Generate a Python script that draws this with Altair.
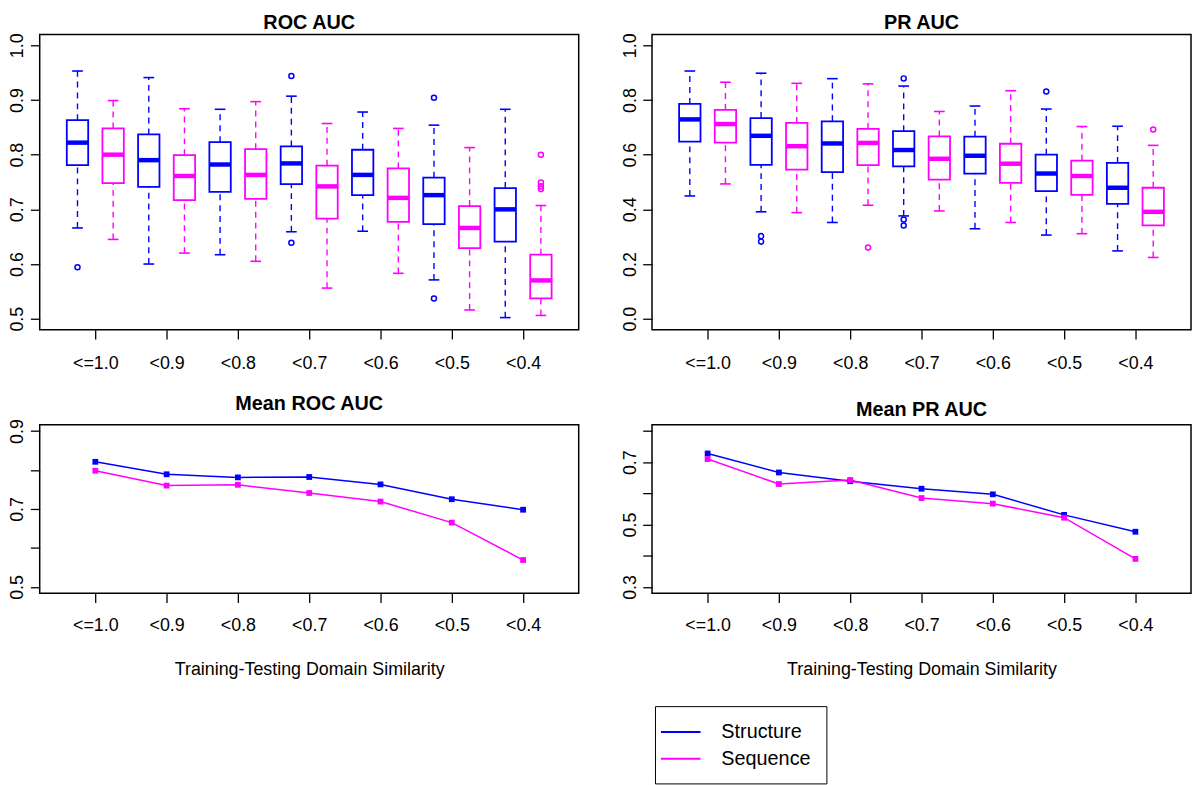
import altair as alt
import pandas as pd

categories = ["<=1.0", "<0.9", "<0.8", "<0.7", "<0.6", "<0.5", "<0.4"]
series_names = ["Structure", "Sequence"]
series_colors = ["#0000FF", "#FF00FF"]

# ---- ROC AUC box statistics (whisker low, Q1, median, Q3, whisker high) ----
roc_struct_lo = [0.666, 0.600, 0.617, 0.659, 0.660, 0.571, 0.502]
roc_struct_q1 = [0.781, 0.741, 0.732, 0.746, 0.726, 0.673, 0.641]
roc_struct_med = [0.822, 0.790, 0.782, 0.784, 0.763, 0.726, 0.700]
roc_struct_q3 = [0.863, 0.837, 0.823, 0.815, 0.809, 0.758, 0.739]
roc_struct_hi = [0.953, 0.941, 0.883, 0.907, 0.878, 0.854, 0.883]
roc_struct_out_idx = [0, 3, 3, 5, 5]
roc_struct_out_val = [0.594, 0.944, 0.639, 0.904, 0.537]

roc_seq_lo = [0.645, 0.620, 0.605, 0.556, 0.583, 0.516, 0.506]
roc_seq_q1 = [0.748, 0.717, 0.719, 0.683, 0.677, 0.629, 0.537]
roc_seq_med = [0.800, 0.761, 0.763, 0.742, 0.721, 0.666, 0.570]
roc_seq_q3 = [0.848, 0.799, 0.810, 0.780, 0.775, 0.706, 0.617]
roc_seq_hi = [0.899, 0.884, 0.897, 0.857, 0.848, 0.813, 0.707]
roc_seq_out_idx = [6, 6, 6, 6]
roc_seq_out_val = [0.800, 0.749, 0.742, 0.737]

# ---- PR AUC box statistics ----
pr_struct_lo = [0.449, 0.391, 0.352, 0.376, 0.329, 0.306, 0.248]
pr_struct_q1 = [0.648, 0.563, 0.536, 0.557, 0.531, 0.467, 0.420]
pr_struct_med = [0.729, 0.669, 0.641, 0.617, 0.596, 0.531, 0.479]
pr_struct_q3 = [0.786, 0.734, 0.722, 0.686, 0.666, 0.600, 0.570]
pr_struct_hi = [0.906, 0.898, 0.878, 0.851, 0.778, 0.767, 0.704]
pr_struct_out_idx = [1, 1, 3, 3, 3, 5]
pr_struct_out_val = [0.302, 0.282, 0.879, 0.363, 0.341, 0.831]

pr_seq_lo = [0.493, 0.388, 0.415, 0.394, 0.352, 0.311, 0.224]
pr_seq_q1 = [0.644, 0.545, 0.562, 0.509, 0.497, 0.453, 0.341]
pr_seq_med = [0.712, 0.631, 0.643, 0.585, 0.567, 0.522, 0.391]
pr_seq_q3 = [0.764, 0.716, 0.694, 0.667, 0.640, 0.578, 0.479]
pr_seq_hi = [0.865, 0.861, 0.859, 0.758, 0.834, 0.703, 0.634]
pr_seq_out_idx = [2, 6]
pr_seq_out_val = [0.260, 0.692]

# ---- Means ----
mean_roc_struct = [0.821, 0.789, 0.781, 0.782, 0.763, 0.725, 0.698]
mean_roc_seq = [0.798, 0.760, 0.762, 0.741, 0.719, 0.665, 0.569]
mean_pr_struct = [0.728, 0.667, 0.639, 0.615, 0.597, 0.531, 0.477]
mean_pr_seq = [0.710, 0.630, 0.643, 0.585, 0.567, 0.522, 0.390]

FONT = "Liberation Sans"
LBL = 18
BOX_HALF = 0.3
STAPLE_HALF = 0.15


def box_rows(lo, q1, med, q3, hi, series, offset):
    rows = []
    for i in range(len(categories)):
        p = 2 * i + 1 + offset
        rows.append(dict(pos=p, left=p - BOX_HALF, right=p + BOX_HALF,
                         sl=p - STAPLE_HALF, sr=p + STAPLE_HALF,
                         lo=lo[i], q1=q1[i], med=med[i], q3=q3[i], hi=hi[i],
                         series=series))
    return rows


def out_rows(idx, vals, series, offset):
    return [dict(pos=2 * i + 1 + offset, value=v, series=series) for i, v in zip(idx, vals)]


color_scale = alt.Scale(domain=series_names, range=series_colors)
cat_expr = "[" + ",".join("'%s'" % c for c in categories) + "]"


def y_axis(values, expr=None):
    kw = dict(values=values, format=".1f", labelAngle=270, labelAlign="center",
              labelBaseline="alphabetic", labelPadding=7.5, tickSize=9.4,
              title=None, labelFlush=False, labelOverlap=False)
    if expr:
        kw["labelExpr"] = expr
    return alt.Axis(**kw)


def box_panel(boxes, outs, title, ydom, yvals):
    base = alt.Chart(pd.DataFrame(boxes))
    xs = alt.Scale(domain=[-0.06, 15.06], nice=False, zero=False)
    ys = alt.Scale(domain=ydom, nice=False, zero=False)
    col = alt.Color("series:N", scale=color_scale, legend=None)
    xax = alt.Axis(values=[1.5, 3.5, 5.5, 7.5, 9.5, 11.5, 13.5],
                   labelExpr=cat_expr + "[round((datum.value - 1.5) / 2)]",
                   title=None, labelAngle=0, labelPadding=16, tickSize=9.4,
                   labelFlush=False, labelOverlap=False)
    yax = y_axis(yvals)

    def X(f):
        return alt.X(f, scale=xs, axis=xax)

    def Y(f):
        return alt.Y(f, scale=ys, axis=yax)

    up = base.mark_rule(strokeDash=[6, 5], strokeWidth=1.4).encode(
        x=X("pos:Q"), y=Y("q3:Q"), y2="hi:Q", color=col)
    down = base.mark_rule(strokeDash=[6, 5], strokeWidth=1.4).encode(
        x=X("pos:Q"), y=Y("lo:Q"), y2="q1:Q", color=col)
    cap_hi = base.mark_rule(strokeWidth=1.6).encode(
        x=X("sl:Q"), x2="sr:Q", y=Y("hi:Q"), color=col)
    cap_lo = base.mark_rule(strokeWidth=1.6).encode(
        x=X("sl:Q"), x2="sr:Q", y=Y("lo:Q"), color=col)
    box = base.mark_rect(filled=False, strokeWidth=1.8).encode(
        x=X("left:Q"), x2="right:Q", y=Y("q1:Q"), y2="q3:Q", color=col)
    med = base.mark_rule(strokeWidth=4.5).encode(
        x=X("left:Q"), x2="right:Q", y=Y("med:Q"), color=col)
    pts = alt.Chart(pd.DataFrame(outs)).mark_point(
        shape="circle", filled=False, size=26, strokeWidth=1.5, opacity=1).encode(
        x=X("pos:Q"), y=Y("value:Q"), color=col)
    return alt.layer(up, down, cap_hi, cap_lo, box, med, pts).properties(
        width=544, height=298,
        title=alt.TitleParams(title, font=FONT, fontSize=20, fontWeight="bold",
                              anchor="middle", frame="group", offset=0, color="black"))


def mean_panel(struct_vals, seq_vals, title, ydom, yvals, legend):
    rows = []
    for s, vals in zip(series_names, [struct_vals, seq_vals]):
        for i, v in enumerate(vals):
            rows.append(dict(idx=i + 1, value=v, series=s))
    base = alt.Chart(pd.DataFrame(rows))
    xs = alt.Scale(domain=[0.22, 7.78], nice=False, zero=False)
    ys = alt.Scale(domain=ydom, nice=False, zero=False)
    xax = alt.Axis(values=[1, 2, 3, 4, 5, 6, 7],
                   labelExpr=cat_expr + "[round(datum.value - 1)]",
                   title="Training-Testing Domain Similarity", labelAngle=0,
                   labelPadding=14, tickSize=9.4, titlePadding=27,
                   labelFlush=False, labelOverlap=False)
    yax = y_axis(yvals, "(round(datum.value * 10) % 2 == 1) ? format(datum.value, '.1f') : ''")
    col = alt.Color("series:N", scale=color_scale, legend=legend)
    line = base.mark_line(strokeWidth=1.5).encode(
        x=alt.X("idx:Q", scale=xs, axis=xax),
        y=alt.Y("value:Q", scale=ys, axis=yax), color=col)
    pts = base.mark_point(shape="square", filled=True, size=34, opacity=1).encode(
        x=alt.X("idx:Q", scale=xs, axis=xax),
        y=alt.Y("value:Q", scale=ys, axis=yax), color=col)
    return alt.layer(line, pts).properties(
        width=544, height=170,
        title=alt.TitleParams(title, font=FONT, fontSize=20, fontWeight="bold",
                              anchor="middle", frame="group", offset=5, color="black"))


roc_boxes = box_rows(roc_struct_lo, roc_struct_q1, roc_struct_med, roc_struct_q3, roc_struct_hi, "Structure", 0) + \
    box_rows(roc_seq_lo, roc_seq_q1, roc_seq_med, roc_seq_q3, roc_seq_hi, "Sequence", 1)
roc_outs = out_rows(roc_struct_out_idx, roc_struct_out_val, "Structure", 0) + \
    out_rows(roc_seq_out_idx, roc_seq_out_val, "Sequence", 1)
pr_boxes = box_rows(pr_struct_lo, pr_struct_q1, pr_struct_med, pr_struct_q3, pr_struct_hi, "Structure", 0) + \
    box_rows(pr_seq_lo, pr_seq_q1, pr_seq_med, pr_seq_q3, pr_seq_hi, "Sequence", 1)
pr_outs = out_rows(pr_struct_out_idx, pr_struct_out_val, "Structure", 0) + \
    out_rows(pr_seq_out_idx, pr_seq_out_val, "Sequence", 1)

tl = box_panel(roc_boxes, roc_outs, "ROC AUC", [0.48, 1.02], [0.5, 0.6, 0.7, 0.8, 0.9, 1.0])
tr = box_panel(pr_boxes, pr_outs, "PR AUC", [-0.04, 1.04], [0.0, 0.2, 0.4, 0.6, 0.8, 1.0])

legend = alt.Legend(orient="none", legendX=3, legendY=284, title=None,
                    symbolType="M-2,0H2", symbolStrokeWidth=2, symbolSize=400,
                    labelFont=FONT, labelFontSize=20, labelColor="black",
                    strokeColor="black", fillColor="white", padding=15,
                    rowPadding=6, labelOffset=30)

bl = mean_panel(mean_roc_struct, mean_roc_seq, "Mean ROC AUC", [0.484, 0.916],
                [0.5, 0.6, 0.7, 0.8, 0.9], None)
br = mean_panel(mean_pr_struct, mean_pr_seq, "Mean PR AUC", [0.28, 0.82],
                [0.3, 0.4, 0.5, 0.6, 0.7, 0.8], legend)

chart = alt.concat(tl, tr, bl, br, columns=2, spacing={"row": 96, "column": 74},
                   bounds="flush").resolve_legend(color="independent").properties(
    padding={"left": 0, "top": 0, "right": 0, "bottom": 0}
).configure(background="white").configure_view(
    stroke="black", strokeWidth=1.5
).configure_axis(
    labelFont=FONT, labelFontSize=LBL, labelColor="black",
    titleFont=FONT, titleFontSize=LBL, titleFontWeight="normal", titleColor="black",
    tickColor="black", tickWidth=1.3, domain=False, grid=False
)

chart.save("out.html", embed_options={"renderer": "svg", "actions": False})
